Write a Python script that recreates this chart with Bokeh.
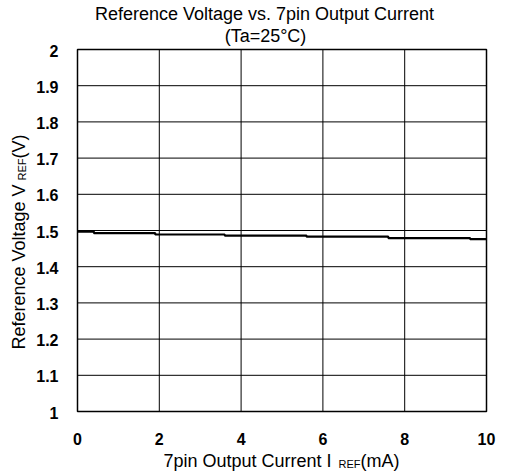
import math
from bokeh.plotting import figure
from bokeh.models import Label, Range1d, ColumnDataSource
from bokeh.core.properties import value
from bokeh.embed import file_html
from bokeh.resources import INLINE

# ---------------- data ----------------
current_ma = [0, 0.4, 1.9, 3.6, 5.6, 7.6, 9.6, 10]
vref = [1.497, 1.493, 1.489, 1.486, 1.483, 1.479, 1.476, 1.476]
x_ticks = [0, 2, 4, 6, 8, 10]
x_tick_labels = ["0", "2", "4", "6", "8", "10"]
y_ticks = [1, 1.1, 1.2, 1.3, 1.4, 1.5, 1.6, 1.7, 1.8, 1.9, 2]
y_tick_labels = ["1", "1.1", "1.2", "1.3", "1.4", "1.5", "1.6", "1.7", "1.8", "1.9", "2"]
title1 = "Reference Voltage vs. 7pin Output Current"
title2 = "(Ta=25°C)"
xlabel_main, xlabel_sub, xlabel_unit = "7pin Output Current  I", "REF", "(mA)"
ylabel_main, ylabel_sub, ylabel_unit = "Reference Voltage V", "REF", "(V)"

# ---------------- layout (pixels) ----------------
W, H = 507, 473
FL, FR, FT, FB = 77, 486, 49, 411
FONT = "Liberation Sans"

x0, x1 = x_ticks[0], x_ticks[-1]
y0, y1 = y_ticks[0], y_ticks[-1]
sx = (FR - FL) / (x1 - x0)
sy = (FB - FT) / (y1 - y0)
xr = Range1d(x0 - FL / sx, x1 + (W - FR) / sx)
yr = Range1d(y0 - (H - FB) / sy, y1 + FT / sy)


def X(px):
    return xr.start + px / sx


def Y(py):
    return yr.end - py / sy


p = figure(width=W, height=H, output_backend="svg", toolbar_location=None,
           x_range=xr, y_range=yr, x_axis_location=None, y_axis_location=None,
           min_border=0, min_border_left=0, min_border_right=0,
           min_border_top=0, min_border_bottom=0)
p.grid.visible = False
p.outline_line_color = None
p.background_fill_color = "white"
p.border_fill_color = "white"

# grid lines from the tick arrays
p.segment(x0=x_ticks, y0=[y0] * len(x_ticks), x1=x_ticks, y1=[y1] * len(x_ticks),
          line_color="black", line_width=1)
p.segment(x0=[x0] * len(y_ticks), y0=y_ticks, x1=[x1] * len(y_ticks), y1=y_ticks,
          line_color="black", line_width=1)
# frame border
p.quad(left=[x0], right=[x1], bottom=[y0], top=[y1], fill_color=None,
       line_color="black", line_width=1.5)

# data line
p.step(current_ma, vref, mode="after", line_color="black", line_width=2.2)

# tick labels
xsrc = ColumnDataSource(dict(x=x_ticks, y=[y0 - (438 - FB) / sy] * len(x_ticks), t=x_tick_labels))
p.text(x="x", y="y", text="t", source=xsrc, text_align="center", text_baseline="middle",
       text_font=value(FONT), text_font_size="16px", text_font_style="bold", text_color="black")
ysrc = ColumnDataSource(dict(x=[x0 - (FL - 58) / sx] * len(y_ticks),
                             y=[v - 1.0 / sy for v in y_ticks], t=y_tick_labels))
p.text(x="x", y="y", text="t", source=ysrc, text_align="right", text_baseline="middle",
       text_font=value(FONT), text_font_size="16px", text_font_style="bold", text_color="black")


def lab(text, px, py, size, angle=0.0, align="left"):
    p.add_layout(Label(x=X(px), y=Y(py), text=text, angle=angle, text_align=align,
                       text_baseline="middle", text_font=FONT,
                       text_font_size=size, text_color="black"))


# titles (positions are visual centres of the capitals)
lab(title1, 264, 13.5, "18px", align="center")
lab(title2, 265, 35, "18px", align="center")

# x-axis label with subscript
lab(xlabel_main, 163, 460.6, "18px")
lab(xlabel_sub, 338, 463.1, "11px")
lab(xlabel_unit, 360, 460.6, "18px")

# y-axis label with subscript (rotated)
lab(ylabel_main, 18.6, 349, "18px", angle=math.pi / 2)
lab(ylabel_sub, 21.1, 180, "11px", angle=math.pi / 2)
lab(ylabel_unit, 18.6, 158, "18px", angle=math.pi / 2)

open("out.html", "w").write(file_html(p, INLINE))
